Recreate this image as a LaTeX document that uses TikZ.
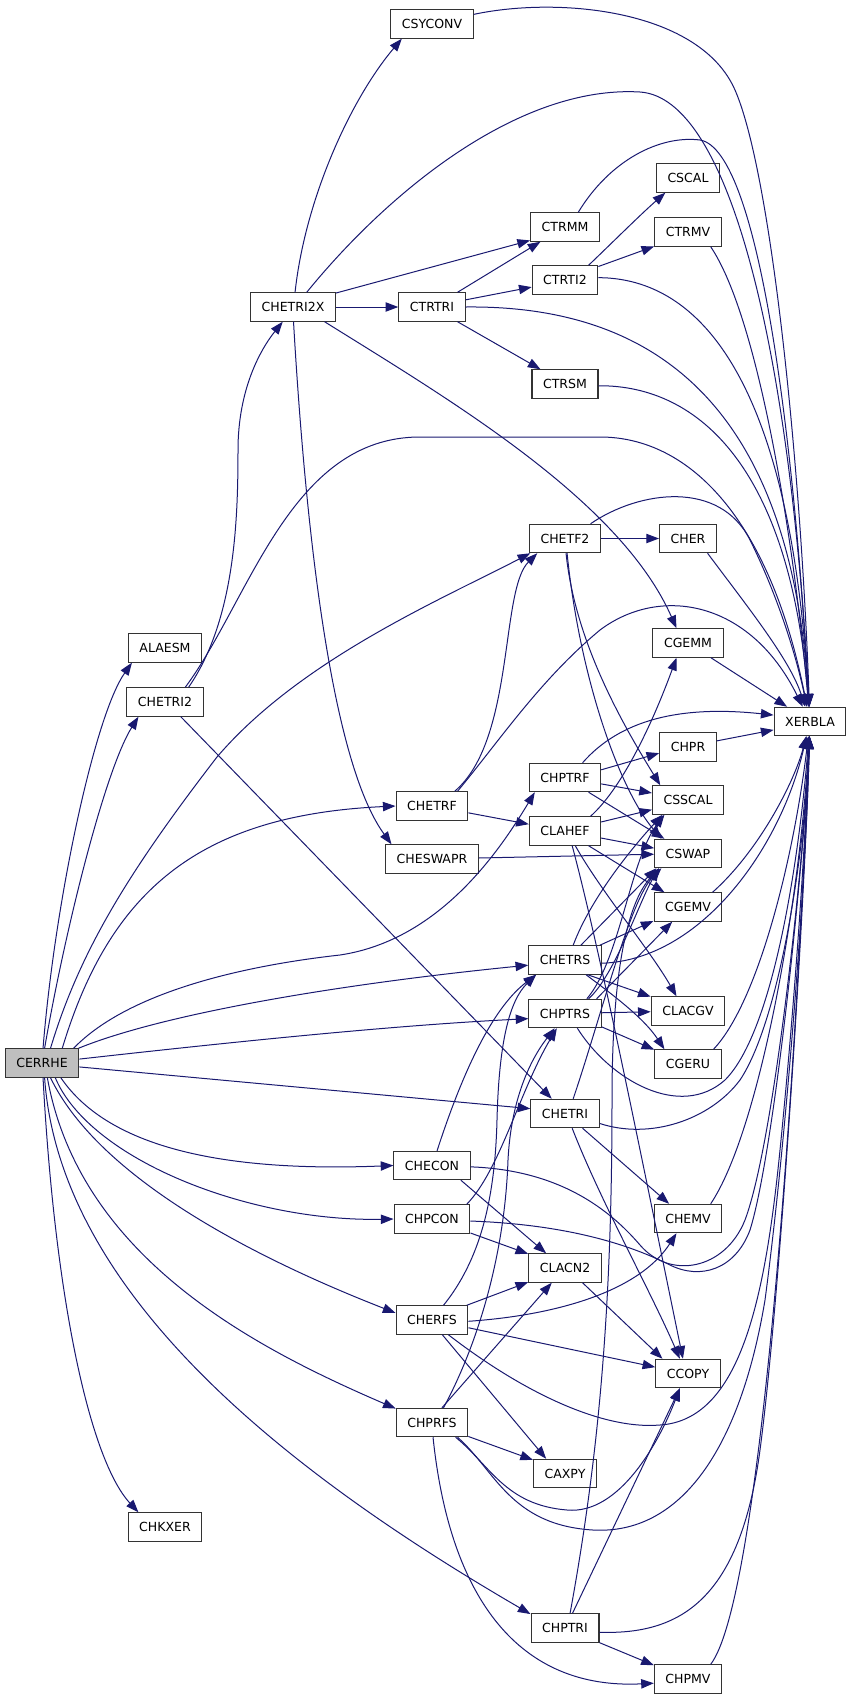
\documentclass[tikz,border=0pt]{standalone}
\usepackage{fontspec}
\setmainfont{DejaVu Sans}
\usepackage{tikz}
\usetikzlibrary{arrows.meta}
\definecolor{midnightBlue}{RGB}{25,25,112}
\definecolor{rootGray}{RGB}{191,191,191}

\begin{document}
\begin{tikzpicture}[x=0.75pt, y=-0.75pt,
  fn/.style={draw=black!80, line width=0.8pt, fill=white, font=\fontsize{9.4pt}{11pt}\selectfont,
    minimum height=21.3pt, inner xsep=8.3pt, inner ysep=0pt},
  call/.style={draw=midnightBlue, line width=0.75pt, -{Triangle[length=9.5pt,width=7pt]}}]
 	\useasboundingbox (0,0) rectangle (853,1699);
 	\node[fn, fill=rootGray] (cerrhe) at (42,1063) {CERRHE};
 	\node[fn] (alaesm) at (165,648) {ALAESM};
 	\node[fn] (chetri2) at (165,702) {CHETRI2};
 	\node[fn] (chkxer) at (165,1527) {CHKXER};
 	\node[fn] (chetri2x) at (293,307) {CHETRI2X};
 	\node[fn] (csyconv) at (432,24) {CSYCONV};
 	\node[fn] (ctrtri) at (432,307) {CTRTRI};
 	\node[fn] (chetrf) at (432,806) {CHETRF};
 	\node[fn] (cheswapr) at (432,859) {CHESWAPR};
 	\node[fn] (checon) at (432,1165.5) {CHECON};
 	\node[fn] (chpcon) at (432,1219) {CHPCON};
 	\node[fn] (cherfs) at (432,1320) {CHERFS};
 	\node[fn] (chprfs) at (432,1422.5) {CHPRFS};
 	\node[fn] (ctrmm) at (565,227) {CTRMM};
 	\node[fn] (ctrti2) at (565,280) {CTRTI2};
 	\node[fn] (ctrsm) at (565,384) {CTRSM};
 	\node[fn] (chetf2) at (565,538.5) {CHETF2};
 	\node[fn] (chptrf) at (565,777.5) {CHPTRF};
 	\node[fn] (clahef) at (565,831) {CLAHEF};
 	\node[fn] (chetrs) at (565,960) {CHETRS};
 	\node[fn] (chptrs) at (565,1013.5) {CHPTRS};
 	\node[fn] (chetri) at (565,1113.5) {CHETRI};
 	\node[fn] (clacn2) at (565,1268) {CLACN2};
 	\node[fn] (caxpy) at (565,1473.5) {CAXPY};
 	\node[fn] (chptri) at (565,1628) {CHPTRI};
 	\node[fn] (cscal) at (688,178) {CSCAL};
 	\node[fn] (ctrmv) at (688,232) {CTRMV};
 	\node[fn] (cher) at (688,538.5) {CHER};
 	\node[fn] (cgemm) at (688,643) {CGEMM};
 	\node[fn] (chpr) at (688,747) {CHPR};
 	\node[fn] (csscal) at (688,800) {CSSCAL};
 	\node[fn] (cswap) at (688,853.5) {CSWAP};
 	\node[fn] (cgemv) at (688,907) {CGEMV};
 	\node[fn] (clacgv) at (688,1011) {CLACGV};
 	\node[fn] (cgeru) at (688,1064) {CGERU};
 	\node[fn] (chemv) at (688,1218.5) {CHEMV};
 	\node[fn] (ccopy) at (688,1373.5) {CCOPY};
 	\node[fn] (chpmv) at (688,1679) {CHPMV};
 	\node[fn] (xerbla) at (810,721.5) {XERBLA};
 	% cerrhe
 	\draw[call] (cerrhe.86) .. controls (55,900) and (95,715) .. (alaesm.204);
 	\draw[call] (cerrhe.80) .. controls (65,930) and (105,770) .. (chetri2.209);
 	\draw[call] (cerrhe.60) .. controls (80,950) and (130,870) .. (217,757) .. controls (300,660) and (440,600) .. (chetf2.203);
 	\draw[call] (cerrhe.36) .. controls (110,890) and (200,815) .. (chetrf.west);
 	\draw[call] (cerrhe.25) .. controls (130,990) and (250,965) .. (340,955) .. controls (440,940) and (500,850) .. (chptrf.206);
 	\draw[call] (cerrhe.22) .. controls (160,1015) and (330,985) .. (chetrs.188);
 	\draw[call] (cerrhe.6) .. controls (250,1040) and (400,1025) .. (chptrs.188);
 	\draw[call] (cerrhe.-6) -- (chetri.172);
 	\draw[call] (cerrhe.-38) .. controls (110,1150) and (230,1172) .. (checon.west);
 	\draw[call] (cerrhe.-48) .. controls (90,1160) and (250,1222) .. (chpcon.west);
 	\draw[call] (cerrhe.-60) .. controls (100,1180) and (260,1260) .. (cherfs.169);
 	\draw[call] (cerrhe.-70) .. controls (80,1260) and (260,1350) .. (chprfs.159);
 	\draw[call] (cerrhe.-80) .. controls (60,1300) and (300,1480) .. (chptri.158);
 	\draw[call] (cerrhe.-86) .. controls (55,1300) and (90,1460) .. (chkxer.151);
 	% chetri2, chetri2x
 	\draw[call] (chetri2.32) .. controls (235,620) and (238,520) .. (238,450) .. controls (238,390) and (260,350) .. (chetri2x.235);
 	\draw[call] (chetri2.36) .. controls (250,600) and (290,437) .. (420,437) -- (600,437) .. controls (690,437) and (770,520) .. (xerbla);
 	\draw[call] (chetri2.-43) -- (chetri.132);
 	\draw[call] (chetri2x.82) .. controls (305,200) and (350,100) .. (csyconv.206);
 	\draw[call] (chetri2x.47) .. controls (390,190) and (520,85) .. (640,92) .. controls (730,98) and (790,350) .. (xerbla);
 	\draw[call] (chetri2x.18) -- (ctrmm.201);
 	\draw[call] (chetri2x) -- (ctrtri);
 	\draw[call] (chetri2x.-25) .. controls (450,400) and (620,500) .. (cgemm.128);
 	\draw[call] (chetri2x.-88) .. controls (305,520) and (330,760) .. (cheswapr.160);
 	\draw[call] (csyconv.13) .. controls (560,-4) and (700,10) .. (735,90) .. controls (770,170) and (800,450) .. (xerbla);
 	% ctrtri, ctrti2
 	\draw[call] (ctrtri.30) -- (ctrmm.211);
 	\draw[call] (ctrtri.12) -- (ctrti2.192);
 	\draw[call] (ctrtri.east) .. controls (650,305) and (790,400) .. (xerbla);
 	\draw[call] (ctrtri.-30) -- (ctrsm.149);
 	\draw[call] (ctrmm.48) .. controls (610,160) and (660,135) .. (700,140) .. controls (760,150) and (795,450) .. (xerbla);
 	\draw[call] (ctrti2.32) .. controls (615,240) and (640,215) .. (cscal.213);
 	\draw[call] (ctrti2.22) -- (ctrmv.203);
 	\draw[call] (ctrti2.4) .. controls (700,278) and (790,380) .. (xerbla);
 	\draw[call] (ctrmv.-33) .. controls (760,320) and (795,550) .. (xerbla);
 	\draw[call] (ctrsm.-3) .. controls (700,385) and (790,470) .. (xerbla);
 	% chetf2, chetrf, chptrf, clahef
 	\draw[call] (chetf2.30) .. controls (640,490) and (720,480) .. (750,540) .. controls (775,590) and (795,650) .. (xerbla);
 	\draw[call] (chetf2) -- (cher);
 	\draw[call] (chetf2.-86) .. controls (575,640) and (620,720) .. (csscal.152);
 	\draw[call] (chetf2.-82) .. controls (580,680) and (620,790) .. (cswap.151);
 	\draw[call] (cher.-37) .. controls (750,610) and (790,660) .. (xerbla);
 	\draw[call] (cgemm) -- (xerbla);
 	\draw[call] (chptrf.40) .. controls (620,720) and (680,705) .. (xerbla.170);
 	\draw[call] (chptrf.12) -- (chpr.192);
 	\draw[call] (chptrf.-10) -- (csscal.169);
 	\draw[call] (chptrf.-32) -- (cswap.148);
 	\draw[call] (chpr.12) -- (xerbla.193);
 	\draw[call] (chetrf.33) .. controls (515,740) and (500,590) .. (chetf2.208);
 	\draw[call] (chetrf.30) .. controls (500,740) and (540,680) .. (600,630) .. controls (660,585) and (750,600) .. (xerbla);
 	\draw[call] (chetrf) -- (clahef);
 	\draw[call] (clahef.30) .. controls (620,790) and (650,730) .. (cgemm.232);
 	\draw[call] (clahef.14) -- (csscal.195);
 	\draw[call] (clahef.-11) -- (cswap.171);
 	\draw[call] (clahef.-32) -- (cgemv.148);
 	\draw[call] (clahef.-55) .. controls (600,890) and (650,950) .. (clacgv.128);
 	\draw[call] (clahef.-64) .. controls (600,950) and (640,1150) .. (ccopy.109);
 	\draw[call] (cheswapr) -- (cswap);
 	% chetrs, chptrs
 	\draw[call] (chetrs.43) -- (cswap.205);
 	\draw[call] (chetrs.61) .. controls (590,900) and (630,850) .. (csscal.210);
 	\draw[call] (chetrs.23) -- (cgemv.202);
 	\draw[call] (chetrs.-5) .. controls (700,960) and (780,850) .. (xerbla);
 	\draw[call] (chetrs.-33) -- (clacgv.159);
 	\draw[call] (chetrs.-35) .. controls (620,1000) and (645,1020) .. (cgeru.148);
 	\draw[call] (chptrs.32) .. controls (615,975) and (640,900) .. (cswap.207);
 	\draw[call] (chptrs.34) .. controls (620,960) and (630,860) .. (csscal.212);
 	\draw[call] (chptrs.25) -- (cgemv.223);
 	\draw[call] (chptrs) -- (clacgv);
 	\draw[call] (chptrs.-20) -- (cgeru.157);
 	\draw[call] (chptrs.-50) .. controls (610,1080) and (680,1120) .. (725,1080) .. controls (775,1030) and (800,850) .. (xerbla);
 	\draw[call] (cgemv.31) .. controls (760,850) and (795,780) .. (xerbla);
 	\draw[call] (cgeru.30) .. controls (760,1000) and (795,850) .. (xerbla);
 	% chetri, checon, chpcon
 	\draw[call] (chetri.61) .. controls (600,1020) and (630,900) .. (cswap.209);
 	\draw[call] (chetri.-16) .. controls (650,1140) and (710,1120) .. (740,1080) .. controls (780,1020) and (805,850) .. (xerbla);
 	\draw[call] (chetri.-40) -- (chemv.142);
 	\draw[call] (chetri.-64) .. controls (600,1200) and (650,1290) .. (ccopy.119);
 	\draw[call] (chemv.33) .. controls (760,1130) and (800,900) .. (xerbla);
 	\draw[call] (checon.71) .. controls (460,1080) and (490,1010) .. (chetrs.207);
 	\draw[call] (checon.-27) -- (clacn2.142);
 	\draw[call] (checon.-2) .. controls (560,1170) and (610,1210) .. (640,1245) .. controls (670,1280) and (725,1270) .. (745,1220) .. controls (775,1140) and (805,850) .. (xerbla);
 	\draw[call] (chpcon.23) .. controls (500,1170) and (520,1090) .. (chptrs.241);
 	\draw[call] (chpcon.-20) -- (clacn2.159);
 	\draw[call] (chpcon.-3) .. controls (580,1225) and (640,1250) .. (670,1265) .. controls (700,1280) and (735,1270) .. (750,1230) .. controls (775,1150) and (805,850) .. (xerbla);
 	\draw[call] (clacn2.-40) -- (ccopy.150);
 	% cherfs, chprfs, chptri
 	\draw[call] (cherfs.52) .. controls (480,1260) and (495,1200) .. (497,1120) .. controls (499,1040) and (510,1000) .. (chetrs.207);
 	\draw[call] (cherfs.23) -- (clacn2.201);
 	\draw[call] (cherfs.-2) .. controls (560,1315) and (640,1290) .. (chemv.232);
 	\draw[call] (cherfs.-12) -- (ccopy.169);
 	\draw[call] (cherfs.-55) -- (caxpy.142);
 	\draw[call] (cherfs.-42) .. controls (520,1390) and (600,1430) .. (660,1425) .. controls (740,1420) and (765,1300) .. (780,1150) .. controls (795,1000) and (805,850) .. (xerbla);
 	\draw[call] (chprfs.52) .. controls (480,1340) and (505,1250) .. (508,1160) .. controls (511,1100) and (530,1060) .. (chptrs.235);
 	\draw[call] (chprfs.56) -- (clacn2.228);
 	\draw[call] (chprfs.-21) -- (caxpy.157);
 	\draw[call] (chprfs.-32) .. controls (490,1465) and (505,1505) .. (567,1510) .. controls (620,1515) and (660,1440) .. (ccopy.241);
 	\draw[call] (chprfs.-30) .. controls (495,1470) and (510,1525) .. (593,1530) .. controls (680,1535) and (740,1450) .. (765,1300) .. controls (785,1150) and (805,900) .. (xerbla);
 	\draw[call] (chprfs.-86) .. controls (450,1600) and (520,1690) .. (chpmv.187);
 	\draw[call] (chptri.71) .. controls (600,1450) and (612,1300) .. (612,1100) .. controls (612,960) and (630,900) .. (cswap.207);
 	\draw[call] (chptri.63) -- (ccopy.241);
 	\draw[call] (chptri.-7) .. controls (680,1635) and (740,1600) .. (760,1450) .. controls (780,1300) and (805,900) .. (xerbla);
 	\draw[call] (chptri.-23) -- (chpmv.158);
 	\draw[call] (chpmv.33) .. controls (760,1600) and (795,1100) .. (xerbla);
\end{tikzpicture}
\end{document}
